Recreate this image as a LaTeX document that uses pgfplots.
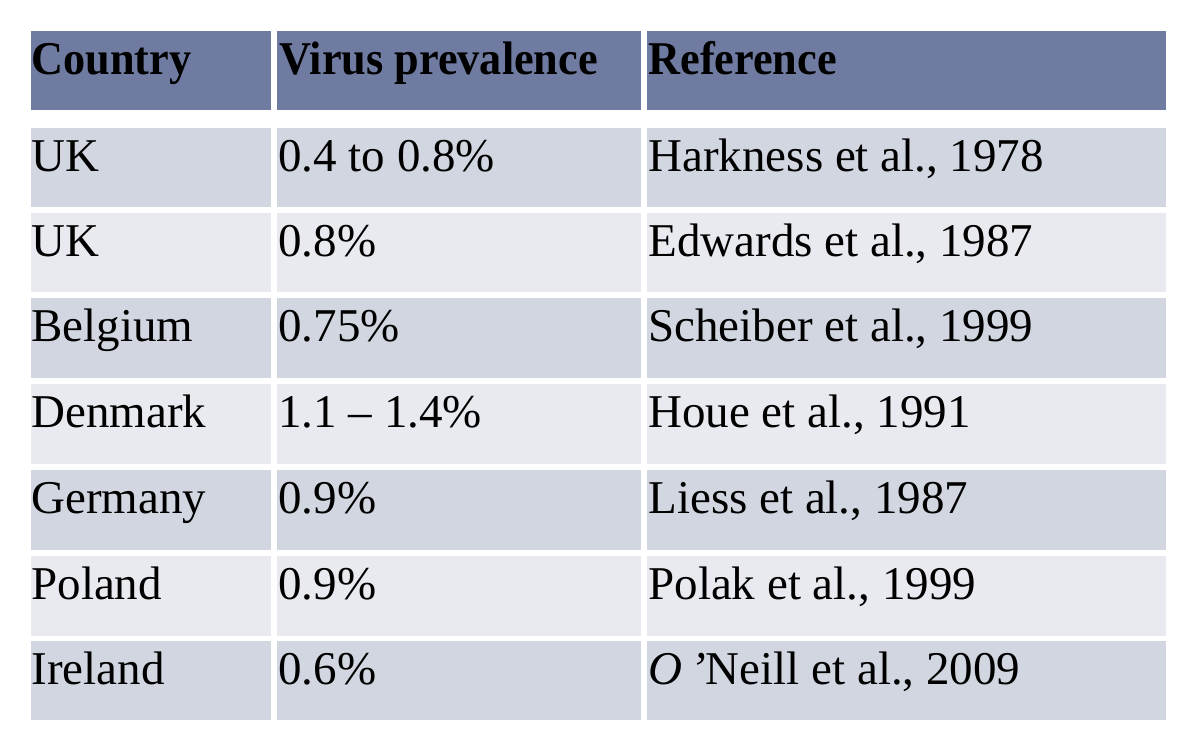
\documentclass[border=0pt]{standalone}
\usepackage{graphicx}
\usepackage{pgfplots}
\pgfplotsset{compat=1.18}
\usepackage{fontspec}
\setmainfont{Liberation Serif}
\definecolor{hdr}{HTML}{6F7BA1}
\definecolor{rowA}{HTML}{D2D6E0}
\definecolor{rowB}{HTML}{E9EAF0}
\newcommand{\cellfont}{\fontsize{23.5}{28}\selectfont}
\newcommand{\hd}[1]{\scalebox{0.942}[1]{\bfseries #1}}
\begin{document}
\begin{tikzpicture}
\begin{axis}[
  width=600pt, height=374.5pt, scale only axis,
  xmin=0, xmax=1200, ymin=0, ymax=749, y dir=reverse,
  hide axis, clip=false,
]
% invisible frame for the page size
\addplot[draw=none, forget plot] coordinates {(0,0) (1200,749)};
% header row
\addplot[fill=hdr, draw=none] coordinates {(31,31) (271,31) (271,110) (31,110)} -- cycle;
\addplot[fill=hdr, draw=none] coordinates {(277,31) (641,31) (641,110) (277,110)} -- cycle;
\addplot[fill=hdr, draw=none] coordinates {(647,31) (1166,31) (1166,110) (647,110)} -- cycle;
% body rows (top, bottom)
\foreach \t/\b/\c in {128/207/rowA, 213/292/rowB, 298/378/rowA, 384/464/rowB, 470/550/rowA, 556/636/rowB, 641/720/rowA}{
  \edef\tmp{
  \noexpand\addplot[fill=\c, draw=none] coordinates {(31,\t) (271,\t) (271,\b) (31,\b)} -- cycle;
  \noexpand\addplot[fill=\c, draw=none] coordinates {(277,\t) (641,\t) (641,\b) (277,\b)} -- cycle;
  \noexpand\addplot[fill=\c, draw=none] coordinates {(647,\t) (1166,\t) (1166,\b) (647,\b)} -- cycle;
  }\tmp
}
% header text
\node[anchor=base west, inner sep=0pt, font=\cellfont] at (axis cs:31,74.5) {\hd{Country}};
\node[anchor=base west, inner sep=0pt, font=\cellfont] at (axis cs:279,74.5) {\hd{Virus prevalence}};
\node[anchor=base west, inner sep=0pt, font=\cellfont] at (axis cs:648,74.5) {\hd{Reference}};
% body text
\node[anchor=base west, inner sep=0pt, font=\cellfont] at (axis cs:31,171.5) {UK};
\node[anchor=base west, inner sep=0pt, font=\cellfont] at (axis cs:278,171.5) {0.4 to 0.8\%};
\node[anchor=base west, inner sep=0pt, font=\cellfont] at (axis cs:648,171.5) {Harkness et al., 1978};
\node[anchor=base west, inner sep=0pt, font=\cellfont] at (axis cs:31,256.5) {UK};
\node[anchor=base west, inner sep=0pt, font=\cellfont] at (axis cs:278,256.5) {0.8\%};
\node[anchor=base west, inner sep=0pt, font=\cellfont] at (axis cs:648,256.5) {Edwards et al., 1987};
\node[anchor=base west, inner sep=0pt, font=\cellfont] at (axis cs:31,341.5) {Belgium};
\node[anchor=base west, inner sep=0pt, font=\cellfont] at (axis cs:278,341.5) {0.75\%};
\node[anchor=base west, inner sep=0pt, font=\cellfont] at (axis cs:648,341.5) {Scheiber et al., 1999};
\node[anchor=base west, inner sep=0pt, font=\cellfont] at (axis cs:31,427.5) {Denmark};
\node[anchor=base west, inner sep=0pt, font=\cellfont] at (axis cs:278,427.5) {1.1 -- 1.4\%};
\node[anchor=base west, inner sep=0pt, font=\cellfont] at (axis cs:648,427.5) {Houe et al., 1991};
\node[anchor=base west, inner sep=0pt, font=\cellfont] at (axis cs:31,513.5) {Germany};
\node[anchor=base west, inner sep=0pt, font=\cellfont] at (axis cs:278,513.5) {0.9\%};
\node[anchor=base west, inner sep=0pt, font=\cellfont] at (axis cs:648,513.5) {Liess et al., 1987};
\node[anchor=base west, inner sep=0pt, font=\cellfont] at (axis cs:31,599.5) {Poland};
\node[anchor=base west, inner sep=0pt, font=\cellfont] at (axis cs:278,599.5) {0.9\%};
\node[anchor=base west, inner sep=0pt, font=\cellfont] at (axis cs:648,599.5) {Polak et al., 1999};
\node[anchor=base west, inner sep=0pt, font=\cellfont] at (axis cs:31,684.5) {Ireland};
\node[anchor=base west, inner sep=0pt, font=\cellfont] at (axis cs:278,684.5) {0.6\%};
\node[anchor=base west, inner sep=0pt, font=\cellfont] at (axis cs:648,684.5) {\textit{O\,’}Neill et al., 2009};
\end{axis}
\end{tikzpicture}
\end{document}
